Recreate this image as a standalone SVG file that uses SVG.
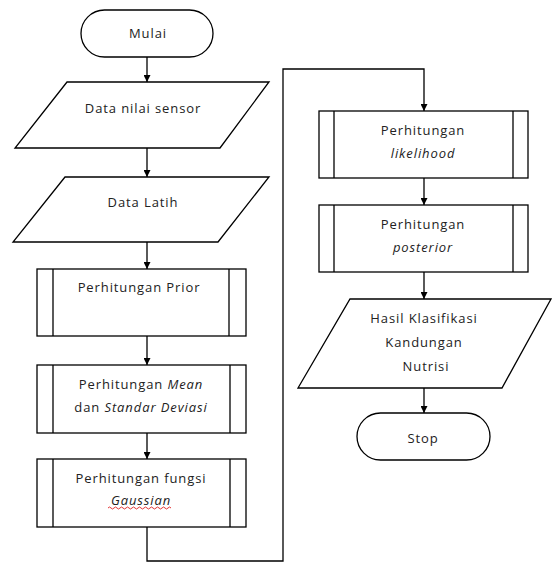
<svg xmlns="http://www.w3.org/2000/svg" width="552" height="563" viewBox="0 0 552 563">
<style>
.s{fill:#fff;stroke:#000;stroke-width:1.3}
.l{fill:none;stroke:#000;stroke-width:1.3}
.c{fill:none;stroke:#000;stroke-width:1.3;marker-end:url(#ah)}
text{font-family:"Open Sans","Liberation Sans",sans-serif;font-size:13px;letter-spacing:0.9px;fill:#222;text-anchor:middle}
.i{font-style:italic}
</style>
<defs>
<marker id="ah" viewBox="0 0 10 10" refX="10" refY="5" markerWidth="7" markerHeight="7" markerUnits="userSpaceOnUse" orient="auto">
<path d="M0,0 L10,5 L0,10 z" fill="#000"/>
</marker>
</defs>
<rect width="552" height="563" fill="#fff"/>
<g id="connectors">
<line class="c" x1="147" y1="57" x2="147" y2="82"/>
<line class="c" x1="147" y1="148" x2="147" y2="177"/>
<line class="c" x1="147" y1="242" x2="147" y2="269"/>
<line class="c" x1="147" y1="336" x2="147" y2="365"/>
<line class="c" x1="147" y1="433" x2="147" y2="459"/>
<polyline class="c" points="147,527 147,561 283,561 283,69 424,69 424,111"/>
<line class="c" x1="424" y1="178" x2="424" y2="205"/>
<line class="c" x1="424" y1="272" x2="424" y2="299"/>
<line class="c" x1="424" y1="388" x2="424" y2="413"/>
</g>
<g id="mulai">
<rect class="s" x="81" y="10" width="132" height="47" rx="23.5"/>
<text x="148" y="38">Mulai</text>
</g>
<g id="data-sensor">
<polygon class="s" points="67,82 269,82 220,148 15,148"/>
<text x="143" y="113">Data nilai sensor</text>
</g>
<g id="data-latih">
<polygon class="s" points="65,177 269,177 218,242 13,242"/>
<text x="143" y="207">Data Latih</text>
</g>
<g id="prior">
<rect class="s" x="37" y="269" width="209" height="67"/>
<line class="l" x1="53" y1="269" x2="53" y2="336"/>
<line class="l" x1="229" y1="269" x2="229" y2="336"/>
<text x="139" y="292">Perhitungan Prior</text>
</g>
<g id="mean">
<rect class="s" x="37" y="365" width="209" height="68"/>
<line class="l" x1="53" y1="365" x2="53" y2="433"/>
<line class="l" x1="230" y1="365" x2="230" y2="433"/>
<text x="141" y="389">Perhitungan <tspan class="i">Mean</tspan></text>
<text x="141" y="412">dan <tspan class="i">Standar Deviasi</tspan></text>
</g>
<g id="gaussian">
<rect class="s" x="37" y="459" width="209" height="68"/>
<line class="l" x1="53" y1="459" x2="53" y2="527"/>
<line class="l" x1="230" y1="459" x2="230" y2="527"/>
<text x="141" y="483">Perhitungan fungsi</text>
<text class="i" x="141" y="505">Gaussian</text>
<path d="M108,508 q1.5,-2 3,0 t3,0 t3,0 t3,0 t3,0 t3,0 t3,0 t3,0 t3,0 t3,0 t3,0 t3,0 t3,0 t3,0 t3,0 t3,0 t3,0 t3,0 t3,0 t3,0 t3,0" fill="none" stroke="#e02020" stroke-width="0.9"/>
</g>
<g id="likelihood">
<rect class="s" x="319" y="111" width="209" height="67"/>
<line class="l" x1="334" y1="111" x2="334" y2="178"/>
<line class="l" x1="513" y1="111" x2="513" y2="178"/>
<text x="423" y="135">Perhitungan</text>
<text class="i" x="423" y="158">likelihood</text>
</g>
<g id="posterior">
<rect class="s" x="319" y="205" width="209" height="67"/>
<line class="l" x1="334" y1="205" x2="334" y2="272"/>
<line class="l" x1="513" y1="205" x2="513" y2="272"/>
<text x="423" y="229">Perhitungan</text>
<text class="i" x="423" y="252">posterior</text>
</g>
<g id="hasil">
<polygon class="s" points="350,299 551,299 502,388 298,388"/>
<text x="424" y="323">Hasil Klasifikasi</text>
<text x="424" y="347">Kandungan</text>
<text x="426" y="371">Nutrisi</text>
</g>
<g id="stop">
<rect class="s" x="357" y="413" width="133" height="47" rx="23.5"/>
<text x="423" y="443">Stop</text>
</g>
</svg>
